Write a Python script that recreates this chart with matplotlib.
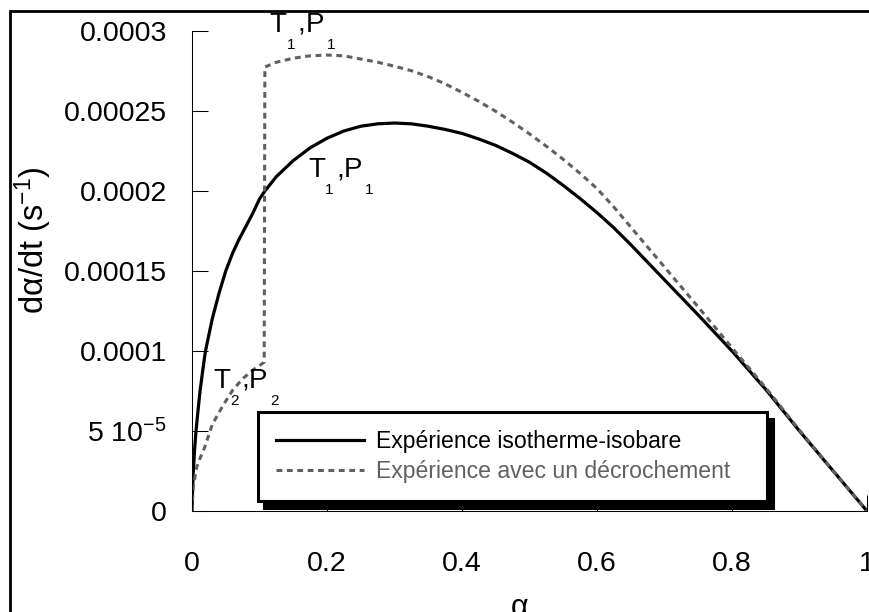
import numpy as np
import matplotlib
matplotlib.use('Agg')
import matplotlib.pyplot as plt
from matplotlib.patches import Rectangle

plt.rcParams['font.family'] = ['Liberation Sans', 'DejaVu Sans']
plt.rcParams['mathtext.fontset'] = 'custom'
plt.rcParams['mathtext.rm'] = 'Liberation Sans'
plt.rcParams['mathtext.it'] = 'Liberation Sans:italic'

# vitesse de reaction : experience isotherme-isobare
alpha_iso = [0, 0.001, 0.002, 0.004, 0.006, 0.009, 0.012, 0.016, 0.02, 0.025,
             0.03, 0.04, 0.05, 0.06, 0.07, 0.08, 0.09, 0.1, 0.108, 0.125,
             0.15, 0.175, 0.2, 0.225, 0.25, 0.275, 0.3, 0.325, 0.35, 0.375,
             0.4, 0.425, 0.45, 0.475, 0.5, 0.525, 0.55, 0.575, 0.6, 0.625,
             0.65, 0.7, 0.75, 0.8, 0.85, 0.9, 0.95, 1.0]
rate_iso = [0, 1.5e-5, 2.5e-5, 3.9e-5, 5.0e-5, 6.3e-5, 7.5e-5, 8.8e-5, 1.0e-4, 1.1e-4,
            1.2e-4, 1.36e-4, 1.5e-4, 1.61e-4, 1.7e-4, 1.78e-4, 1.86e-4, 1.95e-4, 2.0e-4, 2.09e-4,
            2.19e-4, 2.27e-4, 2.33e-4, 2.375e-4, 2.405e-4, 2.42e-4, 2.425e-4, 2.42e-4, 2.405e-4, 2.385e-4,
            2.36e-4, 2.325e-4, 2.285e-4, 2.235e-4, 2.18e-4, 2.112e-4, 2.035e-4, 1.953e-4, 1.865e-4, 1.77e-4,
            1.665e-4, 1.445e-4, 1.225e-4, 1.0e-4, 7.6e-5, 5.0e-5, 2.5e-5, 0]

# experience avec un decrochement (T2,P2 -> T1,P1)
alpha_dec = [0, 0.002, 0.007, 0.012, 0.019, 0.03, 0.046, 0.061, 0.076, 0.09,
             0.107, 0.108, 0.111, 0.125, 0.15, 0.175, 0.2, 0.225, 0.25, 0.275,
             0.3, 0.325, 0.35, 0.375, 0.4, 0.425, 0.45, 0.475, 0.5, 0.525,
             0.55, 0.575, 0.6, 0.625, 0.65, 0.7, 0.75, 0.8, 0.85, 0.9, 0.95, 1.0]
rate_dec = [0, 1.5e-5, 2.75e-5, 3.3e-5, 4.0e-5, 5.4e-5, 6.6e-5, 7.6e-5, 8.3e-5, 8.8e-5,
            9.3e-5, 2.775e-4, 2.78e-4, 2.805e-4, 2.83e-4, 2.845e-4, 2.85e-4, 2.845e-4, 2.825e-4, 2.805e-4,
            2.78e-4, 2.752e-4, 2.715e-4, 2.67e-4, 2.617e-4, 2.56e-4, 2.498e-4, 2.43e-4, 2.357e-4, 2.28e-4,
            2.198e-4, 2.11e-4, 2.015e-4, 1.9e-4, 1.775e-4, 1.525e-4, 1.275e-4, 1.02e-4, 7.7e-5, 5.05e-5, 2.5e-5, 0]

xticks = [0, 0.2, 0.4, 0.6, 0.8, 1]
xticklabels = ['0', '0.2', '0.4', '0.6', '0.8', '1']
yticks = [0, 5e-5, 1e-4, 1.5e-4, 2e-4, 2.5e-4, 3e-4]
yticklabels = ['0', r'5 10$^{-5}$', '0.0001', '0.00015', '0.0002', '0.00025', '0.0003']

legend_labels = ['Expérience isotherme-isobare', 'Expérience avec un décrochement']

fig = plt.figure(figsize=(8.69, 6.12), dpi=100)
ax = fig.add_axes([0.2209, 0.165, 0.7768, 0.7843])

l1, = ax.plot(alpha_iso, rate_iso, color='black', lw=2.3, solid_joinstyle='round')
l2, = ax.plot(alpha_dec, rate_dec, color='#606060', lw=2.2, linestyle=(0, (1.9, 1.5)))

ax.set_xlim(0, 1)
ax.set_ylim(0, 0.0003)
ax.set_xticks(xticks, xticklabels)
ax.set_yticks(yticks, yticklabels)
ax.tick_params(direction='in', length=11.5, width=0.75, labelsize=20.5)
ax.tick_params(axis='x', pad=29)
ax.tick_params(axis='y', pad=18)
for s in ['top', 'right']:
    ax.spines[s].set_visible(False)
for s in ['left', 'bottom']:
    ax.spines[s].set_linewidth(0.75)

ax.set_xlabel('α', fontsize=22)
ax.xaxis.set_label_coords(0.486, -0.171)
ax.set_ylabel(r'dα/dt (s$^{-1}$)', fontsize=23.5)
ax.yaxis.set_label_coords(-0.204, 0.565)


# etiquettes T,P avec indices tres abaisses
def tp_label(x, y, idx):
    px = 0.72
    pieces = [('T', 0, 0, 20), (idx, 17, -17, 11), (',', 28, 0, 20),
              ('P', 36, 0, 20), (idx, 57, -17, 11)]
    for txt, dx, dy, fs in pieces:
        ax.annotate(txt, (x, y), xytext=(dx * px, dy * px), textcoords='offset points',
                    fontsize=fs, va='baseline', ha='left', annotation_clip=False)


tp_label(0.1148, 2.994e-4, '1')
tp_label(0.1719, 2.0875e-4, '1')
tp_label(0.0311, 7.69e-5, '2')

leg = ax.legend([l1, l2], legend_labels, loc='upper left',
                bbox_to_anchor=(0.0978, 0.0, 0.754, 0.206), mode='expand',
                borderaxespad=0, fontsize=16.6, handlelength=3.8, handletextpad=0.52,
                borderpad=0.78, labelspacing=0.3, fancybox=False, framealpha=1,
                shadow={'ox': 4.3, 'oy': -5, 'facecolor': 'black', 'edgecolor': 'black', 'alpha': 1})
leg.get_frame().set_edgecolor('black')
leg.get_frame().set_linewidth(2.2)
leg.get_texts()[1].set_color('#606060')

# cadre de la figure
fig.add_artist(Rectangle((9.5 / 869, -0.5), 2, (612 - 10.5) / 612 + 0.5,
                         transform=fig.transFigure, fill=False, lw=2.0, ec='black'))

fig.savefig('out.png', dpi=100)
